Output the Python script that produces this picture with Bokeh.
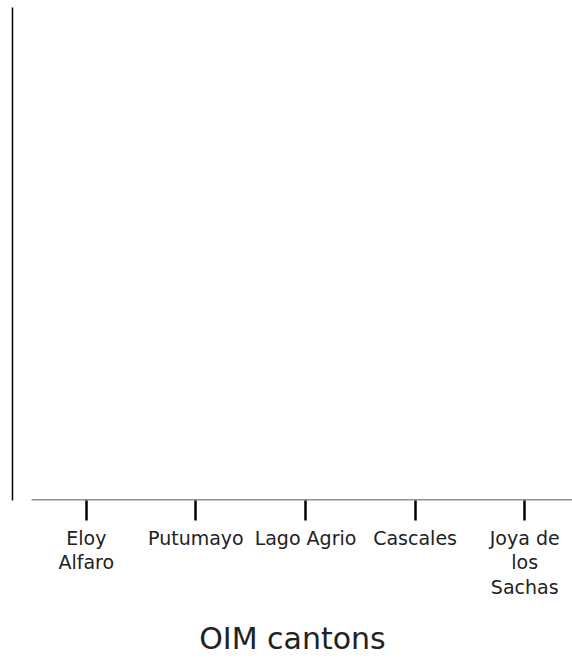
from bokeh.plotting import figure
from bokeh.models import Range1d, FixedTicker
from bokeh.embed import file_html
from bokeh.resources import INLINE

categories = ["Eloy Alfaro", "Putumayo", "Lago Agrio", "Cascales", "Joya de los Sachas"]
tick_labels = ["Eloy\nAlfaro", "Putumayo", "Lago Agrio", "Cascales", "Joya de\nlos\nSachas"]
values = [0, 0, 0, 0, 0]

positions = list(range(len(categories)))

# layout (pixels)
W, H = 572, 659
left, top, bottom_border = 12, 7, 157
band_px = 109.6          # width of one category band
axis_gap = 19            # gap between y axis and start of first band
frame_w = W - left
frame_h = H - top - bottom_border

x_start = -0.5 - axis_gap / band_px
x_end = x_start + frame_w / band_px
y_start = -0.5 / (frame_h - 0.5)

p = figure(width=W, height=H,
           x_range=Range1d(x_start, x_end),
           y_range=Range1d(y_start, 1),
           output_backend="svg", toolbar_location=None,
           min_border_left=left, min_border_right=0,
           min_border_top=top, min_border_bottom=bottom_border)

p.vbar(x=positions, top=values, width=0.8, fill_color="#4682b4", line_color=None)

# x baseline spanning the category bands
p.segment(x0=[positions[0] - 0.5], x1=[positions[-1] + 0.5], y0=[0], y1=[0],
          line_color="#222222", line_width=1.2)

p.outline_line_color = None
p.xgrid.visible = False
p.ygrid.visible = False

xa = p.xaxis[0]
xa.ticker = FixedTicker(ticks=positions)
xa.major_label_overrides = {i: lbl for i, lbl in zip(positions, tick_labels)}
xa.axis_line_color = None
xa.major_tick_line_color = "black"
xa.major_tick_line_width = 2.5
xa.major_tick_out = 20
xa.major_tick_in = 0
xa.minor_tick_line_color = None
xa.major_label_standoff = 6
xa.major_label_text_font = "DejaVu Sans"
xa.major_label_text_font_size = "19px"
xa.major_label_text_color = "#222222"
xa.major_label_text_line_height = 1.13
xa.axis_label = "OIM cantons"
xa.axis_label_text_font = "DejaVu Sans"
xa.axis_label_text_font_size = "30px"
xa.axis_label_text_font_style = "normal"
xa.axis_label_text_color = "#222222"
xa.axis_label_standoff = 20

ya = p.yaxis[0]
ya.ticker = FixedTicker(ticks=[])
ya.axis_line_color = "black"
ya.axis_line_width = 1.5
ya.major_tick_line_color = None
ya.minor_tick_line_color = None
ya.major_label_text_font_size = "0px"
ya.major_label_standoff = 0

open("out.html", "w").write(file_html(p, INLINE))
